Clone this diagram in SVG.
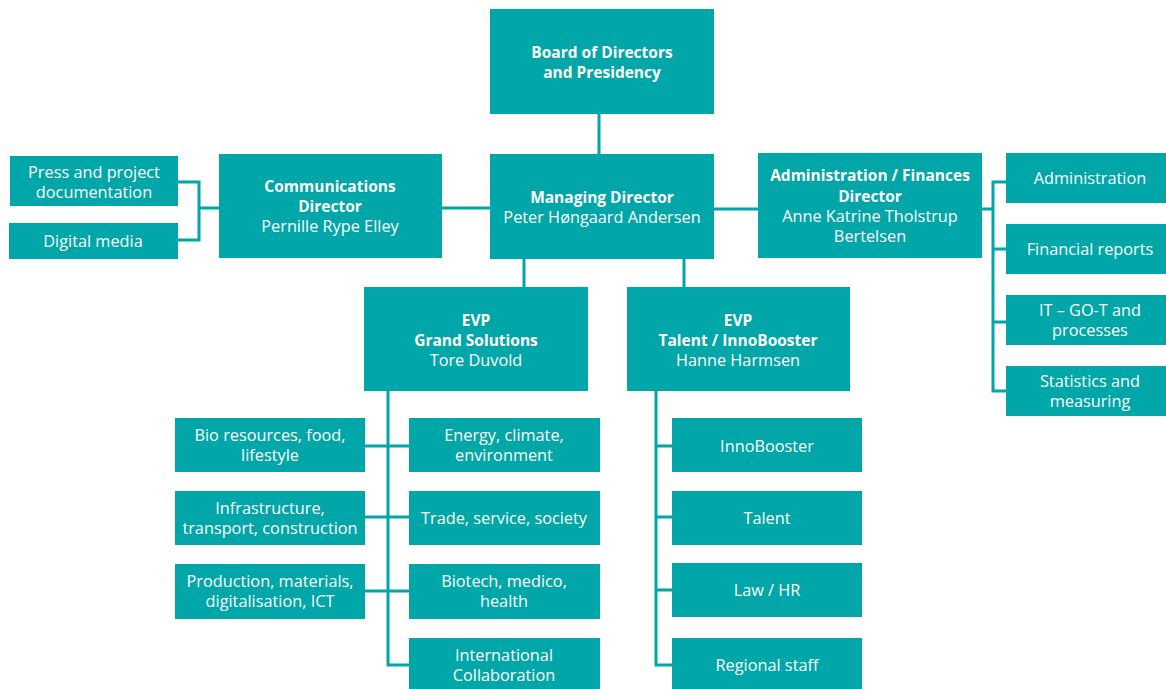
<svg xmlns="http://www.w3.org/2000/svg" width="1166" height="689" viewBox="0 0 1166 689">
  <style>
    .box { fill: #00A6A8; }
    .t { font-family: "Open Sans", "Liberation Sans", sans-serif; font-size: 16.3px; fill: #ffffff; text-anchor: middle; }
    .b { font-weight: bold; font-size: 15.5px; }
    .wire { fill: none; stroke: #00A6A8; stroke-width: 3; }
  </style>
  <rect width="1166" height="689" fill="#ffffff"/>

  <g id="connectors">
    <path class="wire" d="M599 114 V154"/>
    <path class="wire" d="M442 208 H490"/>
    <path class="wire" d="M713 209 H758"/>
    <path class="wire" d="M219 208 H199 M178 182 H199 V240 H178"/>
    <path class="wire" d="M982 209 H993 M1006 182 H993 V391 H1006 M993 249 H1006 M993 322 H1006"/>
    <path class="wire" d="M524 259 V287 M684 259 V287"/>
    <path class="wire" d="M388 391 V665 H409 M365 446 H409 M365 517 H409 M365 591 H409"/>
    <path class="wire" d="M656 391 V665 H672 M656 446 H672 M656 517 H672 M656 590 H672"/>
  </g>

  <g id="board">
    <rect class="box" x="490" y="9" width="224" height="105"/>
    <text class="t b" x="602" y="58">Board of Directors</text>
    <text class="t b" x="602" y="78">and Presidency</text>
  </g>
  <g id="managing">
    <rect class="box" x="490" y="154" width="224" height="105"/>
    <text class="t b" x="602" y="203">Managing Director</text>
    <text class="t" x="602" y="223">Peter Høngaard Andersen</text>
  </g>
  <g id="communications">
    <rect class="box" x="219" y="154" width="223" height="104"/>
    <text class="t b" x="330" y="192">Communications</text>
    <text class="t b" x="330" y="212">Director</text>
    <text class="t" x="330" y="232">Pernille Rype Elley</text>
  </g>
  <g id="press">
    <rect class="box" x="10" y="156" width="168" height="50"/>
    <text class="t" x="94" y="178">Press and project</text>
    <text class="t" x="94" y="198">documentation</text>
  </g>
  <g id="digital">
    <rect class="box" x="9" y="223" width="169" height="36"/>
    <text class="t" x="93" y="247">Digital media</text>
  </g>
  <g id="admin-finances">
    <rect class="box" x="758" y="153" width="224" height="105"/>
    <text class="t b" x="870" y="181">Administration / Finances</text>
    <text class="t b" x="870" y="202">Director</text>
    <text class="t" x="870" y="222">Anne Katrine Tholstrup</text>
    <text class="t" x="870" y="242">Bertelsen</text>
  </g>
  <g id="administration">
    <rect class="box" x="1006" y="153" width="160" height="50"/>
    <text class="t" x="1090" y="184">Administration</text>
  </g>
  <g id="financial-reports">
    <rect class="box" x="1006" y="224" width="160" height="50"/>
    <text class="t" x="1090" y="255">Financial reports</text>
  </g>
  <g id="it">
    <rect class="box" x="1006" y="295" width="160" height="50"/>
    <text class="t" x="1090" y="316">IT – GO-T and</text>
    <text class="t" x="1090" y="336">processes</text>
  </g>
  <g id="statistics">
    <rect class="box" x="1006" y="366" width="160" height="50"/>
    <text class="t" x="1090" y="387">Statistics and</text>
    <text class="t" x="1090" y="407">measuring</text>
  </g>

  <g id="evp-grand">
    <rect class="box" x="364" y="287" width="224" height="104"/>
    <text class="t b" x="476" y="326">EVP</text>
    <text class="t b" x="476" y="346">Grand Solutions</text>
    <text class="t" x="476" y="366">Tore Duvold</text>
  </g>
  <g id="evp-talent">
    <rect class="box" x="627" y="287" width="223" height="104"/>
    <text class="t b" x="738" y="326">EVP</text>
    <text class="t b" x="738" y="346">Talent / InnoBooster</text>
    <text class="t" x="738" y="366">Hanne Harmsen</text>
  </g>

  <g id="bio">
    <rect class="box" x="175" y="418" width="190" height="54"/>
    <text class="t" x="270" y="441">Bio resources, food,</text>
    <text class="t" x="270" y="461">lifestyle</text>
  </g>
  <g id="energy">
    <rect class="box" x="409" y="418" width="191" height="54"/>
    <text class="t" x="504" y="441">Energy, climate,</text>
    <text class="t" x="504" y="461">environment</text>
  </g>
  <g id="infrastructure">
    <rect class="box" x="175" y="491" width="190" height="54"/>
    <text class="t" x="270" y="514">Infrastructure,</text>
    <text class="t" x="270" y="534">transport, construction</text>
  </g>
  <g id="trade">
    <rect class="box" x="409" y="491" width="191" height="54"/>
    <text class="t" x="504" y="524">Trade, service, society</text>
  </g>
  <g id="production">
    <rect class="box" x="175" y="564" width="190" height="55"/>
    <text class="t" x="270" y="587">Production, materials,</text>
    <text class="t" x="270" y="607">digitalisation, ICT</text>
  </g>
  <g id="biotech">
    <rect class="box" x="409" y="564" width="191" height="55"/>
    <text class="t" x="504" y="587">Biotech, medico,</text>
    <text class="t" x="504" y="607">health</text>
  </g>
  <g id="international">
    <rect class="box" x="409" y="638" width="191" height="51"/>
    <text class="t" x="504" y="661">International</text>
    <text class="t" x="504" y="681">Collaboration</text>
  </g>

  <g id="innobooster">
    <rect class="box" x="672" y="418" width="190" height="54"/>
    <text class="t" x="767" y="452">InnoBooster</text>
  </g>
  <g id="talent">
    <rect class="box" x="672" y="491" width="190" height="54"/>
    <text class="t" x="767" y="524">Talent</text>
  </g>
  <g id="law-hr">
    <rect class="box" x="672" y="563" width="190" height="54"/>
    <text class="t" x="767" y="596">Law / HR</text>
  </g>
  <g id="regional">
    <rect class="box" x="672" y="638" width="190" height="51"/>
    <text class="t" x="767" y="671">Regional staff</text>
  </g>
</svg>
